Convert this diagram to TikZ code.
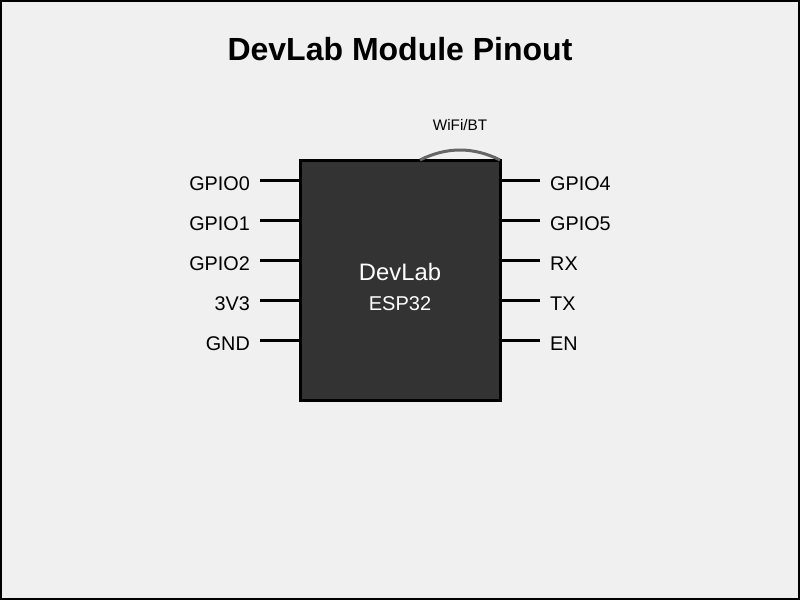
\documentclass[tikz,border=0pt]{standalone}
\usepackage{fontspec}
\setmainfont{Liberation Sans}
\begin{document}
\begin{tikzpicture}[x=1pt,y=-1pt,
  pin/.style={line width=3pt},
  lbl/.style={inner sep=0pt,font=\fontsize{19.8}{20}\selectfont},
  chip/.style={draw=black,fill=chipgray,line width=3pt,outer sep=0pt,inner sep=0pt},
]
\definecolor{bggray}{HTML}{F0F0F0}
\definecolor{chipgray}{HTML}{333333}
\definecolor{arcgray}{HTML}{666666}
\useasboundingbox (0,0) rectangle (800,600);
\draw[fill=bggray,draw=black,line width=2pt] (1,1) rectangle (799,599);
\node[inner sep=0pt,anchor=base,font=\fontsize{32}{33}\selectfont\bfseries] (title) at (400,60) {DevLab Module Pinout};
\node[chip,minimum width=200pt,minimum height=240pt] (chip) at (400,280) {};
\node[inner sep=0pt,anchor=base,text=white,font=\fontsize{23.8}{24}\selectfont] (name) at (400,280) {DevLab};
\node[inner sep=0pt,anchor=base,text=white,font=\fontsize{20}{21}\selectfont] (model) at (400,310) {ESP32};
\coordinate (a1) at (420,160);
\coordinate (a2) at (500,160);
\draw[arcgray,line width=3pt] (a1) .. controls (446.67,146.67) and (473.33,146.67) .. (a2);
\node[inner sep=0pt,anchor=base,font=\fontsize{15.3}{16}\selectfont] (wifi) at (460,130) {WiFi/BT};
\foreach \n/\t/\y in {L0/GPIO0/180,L1/GPIO1/220,L2/GPIO2/260,L3/3V3/300,L4/GND/340}{
  \coordinate (\n e) at (300,\y);
  \coordinate (\n s) at (260,\y);
  \draw[pin] (\n s) -- (\n e);
  \node[lbl,anchor=base east] (\n) at (250,\y+10) {\t};
}
\foreach \n/\t/\y in {R0/GPIO4/180,R1/GPIO5/220,R2/RX/260,R3/TX/300,R4/EN/340}{
  \coordinate (\n e) at (500,\y);
  \coordinate (\n s) at (540,\y);
  \draw[pin] (\n e) -- (\n s);
  \node[lbl,anchor=base west] (\n) at (550,\y+10) {\t};
}
\end{tikzpicture}
\end{document}
